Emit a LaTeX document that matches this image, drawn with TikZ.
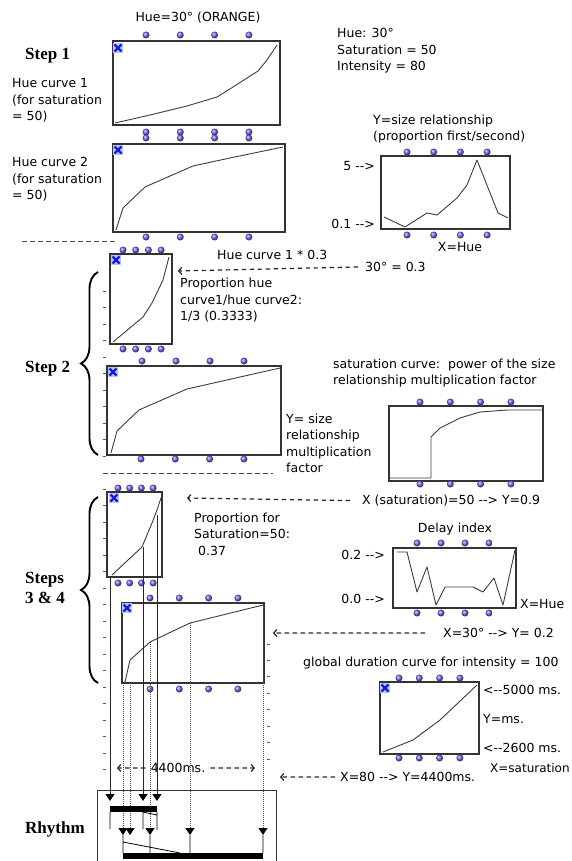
\documentclass[tikz,border=0pt]{standalone}
\usepackage{fontspec}
\newfontfamily\genfont{DejaVu Sans}[Ligatures=TeXOff]
\newfontfamily\stepfont{Liberation Serif}
\usetikzlibrary{arrows.meta,decorations.pathreplacing}
\definecolor{dotblue}{RGB}{112,96,232}
\definecolor{xblue}{RGB}{25,25,230}
\definecolor{xback}{RGB}{185,200,248}
\definecolor{curvegray}{RGB}{60,60,60}
\begin{document}
\begin{tikzpicture}[x=1pt,y=-1pt,
    txt/.style={font=\genfont\fontsize{12.5}{16.5}\selectfont, inner sep=0pt, align=left, anchor=base west},
    steptxt/.style={font=\stepfont\bfseries\fontsize{17}{20}\selectfont, inner sep=0pt, align=left, anchor=base west},
    frame/.style={draw=black!80, line width=1.4pt},
    curve/.style={draw=curvegray, line width=0.9pt, line join=round},
    dashes/.style={draw=black!70, line width=0.9pt, dash pattern=on 5pt off 3pt},
    dasharrow/.style={draw=black!85, line width=1.2pt, dash pattern=on 4.5pt off 3.5pt, -{Straight Barb[length=3pt,width=7pt]}},
    stepbrace/.style={draw, line width=1.9pt, decorate, decoration={brace, amplitude=17pt}},
    tick/.style={draw=black!65, line width=1pt},
    solidarrow/.style={draw=black!85, line width=1pt, -{Triangle[width=9pt,length=7pt,color=black]}},
    dotarrow/.style={draw=black!70, line width=0.8pt, dash pattern=on 1pt off 1pt, -{Triangle[width=9pt,length=7pt,color=black]}}
    ]
\useasboundingbox (0,0) rectangle (572,861);

\node[txt, anchor=base] (huetitle) at (198,21.5) {Hue=30° (ORANGE)};
\node[steptxt] (stepone) at (25,60) {Step 1};
\node[txt] (curveonelbl) at (12,121) {Hue curve 1\\(for saturation\\= 50)};
\node[txt] (curvetwolbl) at (12,199.5) {Hue curve 2\\(for saturation\\= 50)};
\node[txt] (colourlbl) at (337,71) {Hue: 30°\\Saturation = 50\\Intensity = 80};
\node[txt] (sizelbl) at (373,141) {Y=size relationship\\(proportion first/second)};
\node[txt, anchor=base east] (sizemax) at (375,170.5) {5 -->};
\node[txt, anchor=base east] (sizemin) at (375,228.5) {0.1 -->};
\node[txt, anchor=base] (sizex) at (460,251.5) {X=Hue};
\node[txt] (scalelbl) at (217,259.5) {Hue curve 1 * 0.3};
\node[txt] (scaleval) at (365,271.5) {30° = 0.3};
\node[txt] (proplbl) at (180,320.5) {Proportion hue\\curve1/hue curve2:\\1/3 (0.3333)};
\node[steptxt] (steptwo) at (25,372) {Step 2};
\node[txt] (satlbl) at (333,384.5) {saturation curve:\ \ power of the size\\relationship multiplication factor};
\node[txt] (multlbl) at (286,472.5) {Y= size\\relationship\\multiplication\\factor};
\node[txt] (satval) at (362,504.5) {X (saturation)=50 --> Y=0.9};
\node[txt] (propsatlbl) at (194,555) {Proportion for\\Saturation=50:\\\hspace{4pt}0.37};
\node[txt, anchor=base] (delaylbl) at (455,532.5) {Delay index};
\node[txt, anchor=base east] (delaymax) at (385,559.5) {0.2 -->};
\node[txt, anchor=base east] (delaymin) at (385,603.5) {0.0 -->};
\node[txt] (delayx) at (520,608.5) {X=Hue};
\node[steptxt] (stepsthree) at (25,603) {Steps\\3 \& 4};
\node[txt] (delayval) at (443,637.5) {X=30° --> Y= 0.2};
\node[txt] (durlbl) at (303,666.5) {global duration curve for intensity = 100};
\node[txt] (durmax) at (483,694.5) {<--5000 ms.};
\node[txt] (dury) at (483,723.5) {Y=ms.};
\node[txt] (durmin) at (483,752.5) {<--2600 ms.};
\node[txt, font=\genfont\fontsize{12}{16}\selectfont] (durx) at (490,772.5) {X=saturation};
\node[txt] (durval) at (340,781.5) {X=80 --> Y=4400ms.};
\node[txt, anchor=base] (totaldur) at (178,772.5) {4400ms.};
\node[steptxt] (rhythmlbl) at (25,833) {Rhythm};

\draw[frame] (113,41) rectangle (280,125);
\draw[frame] (113,144) rectangle (285,232);
\draw[frame] (381,156) rectangle (510,229);
\draw[frame] (110,254) rectangle (172,344);
\draw[frame] (107,366) rectangle (281,455);
\draw[frame] (389,406) rectangle (543,481);
\draw[frame] (107,492) rectangle (162,577);
\draw[frame] (122,603) rectangle (264,683);
\draw[frame] (393,548) rectangle (516,608);
\draw[frame] (380,682) rectangle (479,754);
\draw[frame, line width=1pt] (97,861) -- (97,790) -- (276,790) -- (276,861);

\draw[curve] plot coordinates {(115,123) (150,115) (187,106) (217,97) (233,87) (258,71) (267,60) (277,45)};
\draw[curve] plot coordinates {(116,230) (123,208) (145,187) (193,166) (230,158) (283,147)};
\draw[curve] plot coordinates {(384,217) (405,227) (427,213) (437,215) (457,198) (467,185) (477,160) (498,213) (508,218)};
\draw[curve] plot coordinates {(113,342) (143,317) (152,303) (163,280) (169,257)};
\draw[curve] plot coordinates {(111,453) (117,431) (139,410) (187,389) (280,368)};
\draw[curve] plot coordinates {(390,478) (431,478) (431,437) (440,428) (460,418) (480,412) (507,410) (542,410)};
\draw[curve] plot coordinates {(112,575) (142,547) (152,523) (157,510) (162,495)};
\draw[curve] plot coordinates {(125,682) (130,660) (150,642) (190,623) (263,605)};
\draw[curve] plot coordinates {(397,552) (407,552) (417,592) (427,567) (436,605) (445,587) (473,587) (483,592) (494,578) (503,605) (515,550)};
\draw[curve] plot coordinates {(383,752) (413,740) (440,720) (477,685)};

\foreach \x/\y/\s in {146/35/34.3, 146/132/34.3, 146/138/34.3, 146/237/34.3,
                      407/152/26.7, 407/235/26.7, 123/250/12.7, 123/349/12.7,
                      142/361/34, 141/459/34.3, 420/402/30.3, 420/484/30.3,
                      118/488/11.7, 118/583/11.7, 150/598/29.3, 150/689/29.3,
                      417/543/24, 417/613/24, 399/678/20.3, 399/758/20.3}{
    \foreach \i in {0,...,3}{
        \shade[ball color=dotblue] (\x+\i*\s,\y) circle (3.5pt);
    }
}

\foreach \x/\y in {118/48, 118/150, 116/260, 113/372, 114/498, 127/608, 385/688}{
    \fill[xback] (\x-5,\y-5) rectangle (\x+5,\y+5);
    \draw[xblue, line width=2.4pt] (\x-3.5,\y-3.5) -- (\x+3.5,\y+3.5) (\x-3.5,\y+3.5) -- (\x+3.5,\y-3.5);
}

\foreach \k in {0,...,10,12,13,...,29}{
    \draw[tick] (102.5,291+16.5*\k) -- (105.5,291+16.5*\k);
}
\foreach \k in {0,...,7}{
    \draw[tick] (267,644+16.45*\k) -- (270,644+16.45*\k);
}

\draw[stepbrace] (98,455) -- (98,272);
\draw[stepbrace] (98,683) -- (98,497);

\draw[dashes] (22,241) -- (115,241);
\draw[dashes] (103,473) -- (273,473);
\draw[dasharrow] ([xshift=-7pt]scaleval.west) -- (178,271);
\draw[dasharrow] ([xshift=-12pt]satval.west) -- (187,498);
\draw[dasharrow] ([xshift=-18pt]delayval.west) -- (273,633);
\draw[dasharrow] ([xshift=-5pt]durval.west) -- (280,777);
\draw[dasharrow] ([xshift=-5pt]totaldur.west) -- (117,768);
\draw[dasharrow] ([xshift=5pt]totaldur.east) -- (255,768);

\foreach \x/\y in {110/577, 143/547, 157/515}{
    \draw[solidarrow] (\x,\y) -- (\x,801);
}
\foreach \x/\y in {123/683, 130/683, 150/642, 190/623, 263/605}{
    \draw[dotarrow] (\x,\y) -- (\x,835);
}

\fill (110,806) rectangle (157,812);
\draw[line width=0.8pt] (110,812) -- (110,829) (143,812) -- (143,829) (157,812) -- (157,830) (143,812) -- (157,815);
\fill (123,853) rectangle (263,859);
\draw[line width=0.8pt] (123,835) -- (123,853) (150,835) -- (150,853) (190,835) -- (190,853) (263,835) -- (263,853) (123,842) -- (180,853);
\end{tikzpicture}
\end{document}
